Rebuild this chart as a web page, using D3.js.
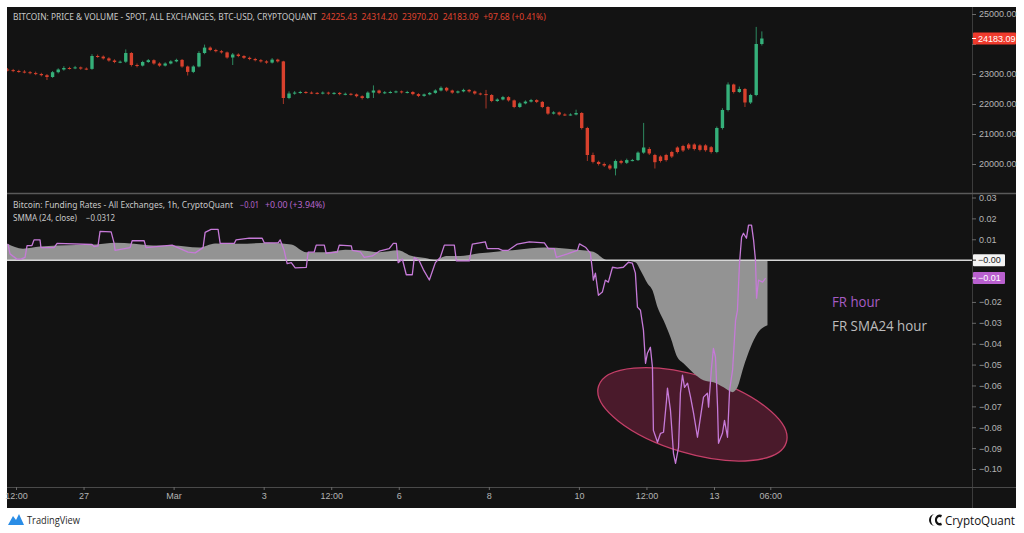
<!DOCTYPE html>
<html><head><meta charset="utf-8">
<script src="https://cdn.jsdelivr.net/npm/d3@7"></script>
<style>
html,body{margin:0;padding:0;background:#fff;}
svg{display:block;}
</style></head><body>
<svg id="c" width="1024" height="533"></svg>
<script>
// ---------- DATA ----------
// 3-hour candles, first one opens 2023-02-25 06:00 UTC
const candleStartUTC = [2023, 1, 25, 6];
const candleStepHours = 3;
const opens = [23150,23130,23100,23080,23060,23030,23000,22960,22900,23060,
23150,23200,23190,23220,23180,23170,23600,23580,23520,23450,
23400,23410,23700,23300,23280,23400,23460,23350,23280,23350,
23420,23470,23250,23070,23250,23700,23880,23800,23760,23720,
23550,23650,23600,23540,23500,23460,23420,23380,23480,23420,
22200,22350,22380,22400,22380,22370,22360,22380,22350,22370,
22330,22340,22320,22260,22200,22380,22450,22370,22390,22400,
22420,22390,22400,22330,22270,22320,22370,22450,22540,22450,
22380,22420,22470,22420,22350,22330,22300,22100,22150,22230,
22120,21900,22020,22080,22130,22070,21900,21680,21720,21650,
21640,21650,21700,21200,20300,20070,20000,19950,19850,20100,
20040,20130,20130,20380,20500,20300,20250,20300,20400,20550,
20600,20650,20650,20620,20620,20560,20400,21200,21800,22650,
22400,22500,22050,22300,24000];
const highs = [23200,23170,23140,23130,23100,23080,23040,23000,23100,23190,
23260,23240,23270,23250,23220,23660,23650,23620,23560,23490,
23450,23820,23730,23350,23440,23500,23490,23390,23390,23460,
23510,23500,23280,23290,23760,23980,23920,23840,23800,23750,
23700,23690,23630,23580,23540,23500,23460,23530,23510,23440,
22420,22430,22440,22430,22420,22400,22420,22410,22400,22400,
22380,22370,22350,22290,22420,22620,22480,22430,22440,22450,
22450,22440,22430,22360,22350,22400,22490,22590,22570,22480,
22450,22510,22500,22450,22380,22470,22330,22190,22270,22260,
22150,22060,22120,22170,22160,22100,21930,21760,21750,21690,
21690,21810,21730,21240,20380,20110,20050,20000,20150,20140,
20180,20170,20420,21370,20560,20340,20290,20340,20440,20590,
20640,20700,20690,20660,20660,20600,21250,21860,22720,22680,
22580,22530,22340,24570,24420];
const lows = [23090,23060,23040,23020,22990,22960,22920,22800,22870,23020,
23110,23150,23160,23140,23130,23140,23540,23480,23410,23360,
23360,23370,23250,23220,23250,23370,23310,23240,23250,23320,
23390,23210,22950,23030,23220,23660,23760,23720,23680,23510,
23300,23560,23500,23460,23420,23380,23340,23350,23380,22000,
22160,22310,22340,22340,22330,22320,22320,22310,22310,22290,
22290,22280,22220,22150,22170,22200,22330,22330,22350,22360,
22350,22350,22290,22230,22240,22290,22340,22420,22410,22340,
22350,22390,22380,22310,22290,21850,22060,22070,22120,22080,
21860,21870,21990,22050,22030,21860,21640,21650,21610,21600,
21610,21620,21150,20100,20020,19950,19900,19800,19620,19990,
20000,20090,20100,20340,20300,19850,20050,20080,20200,20350,
20400,20470,20450,20420,20410,20350,20360,21150,21750,22350,
22370,21900,22000,22260,23950];
const closes = [23130,23100,23080,23060,23030,23000,22960,22900,23060,23150,
23200,23190,23220,23180,23170,23600,23580,23520,23450,23400,
23410,23700,23300,23280,23400,23460,23350,23280,23350,23420,
23470,23250,23070,23250,23700,23880,23800,23760,23720,23550,
23650,23600,23540,23500,23460,23420,23380,23480,23420,22200,
22350,22380,22400,22380,22370,22360,22380,22350,22370,22330,
22340,22320,22260,22200,22380,22450,22370,22390,22400,22420,
22390,22400,22330,22270,22320,22370,22450,22540,22450,22380,
22420,22470,22420,22350,22330,22300,22100,22150,22230,22120,
21900,22020,22080,22130,22070,21900,21680,21720,21650,21640,
21650,21700,21200,20300,20070,20000,19950,19850,20100,20040,
20130,20130,20380,20550,20350,20060,20100,20130,20250,20400,
20450,20520,20500,20470,20460,20400,21200,21800,22650,22400,
22500,22050,22300,24000,24183.09];

// Funding rate (hourly), hours after 2023-02-25 12:00 UTC
const frBaseUTC = [2023, 1, 25, 12];
const frHours = [-4.3,-3.2,0.5,2.7,4.8,5.9,8.5,9.6,12.8,13.3,20.3,21.9,40.5,41.6,43.7,44.8,50.7,52.3,52.8,60.8,
61.9,68.3,69.3,83.2,91.7,95.5,99.7,100.8,104,107.7,108.8,116.3,117.3,124.3,131.2,132.3,139.7,140.8,142.9,144.5,
146.7,148.8,154.7,155.7,158.9,160,164.3,165.3,171.2,172.3,178.7,179.2,183.5,185.6,189.9,193.6,198.9,201.1,202.7,203.7,
205.9,208,211.2,212.3,214.9,217.1,220.3,223.5,226.1,228.3,233.6,234.7,241.6,243.2,250.1,251.2,257.1,259.2,262.4,267.2,
273.6,281.6,283.7,286.9,288,293.9,299.2,300.3,
303.5,306.1,307.2,307.7,308.8,310.4,312.5,314.1,315.7,317.9,320.5,323.7,326.4,328.5,330.1,331.2,332.8,334.4,335.5,336.5,
338.1,339.2,339.7,341.9,343.5,345.1,346.7,347.2,348.8,350.4,351.5,353.1,354.1,355.2,356.3,357.9,359.5,361.1,363.2,364.8,
366.4,368.5,369.1,370.7,371.7,372.8,373.9,374.4,376.5,377.6,379.2,380.3,381.9,383.5,384.5,385.6,386.7,387.7,389.3,390.4,
392,393.1,394.1,394.7,395.7,397.9,399.5];
const frValues = [0.0077,0.003,0.0005,0.0005,0.0013,0.007,0.007,0.0097,0.0097,0.006,0.006,0.008,0.0075,0.0065,0.0068,0.0138,0.0135,0.008,0.0047,0.006,
0.0093,0.0093,0.006,0.0072,0.0038,0.0035,0.006,0.0133,0.0147,0.0147,0.008,0.008,0.0097,0.0105,0.0105,0.0083,0.0083,0.0097,0.0047,-0.0017,
-0.0012,-0.0037,-0.0035,0.0038,0.0038,0.0072,0.0072,0.0033,0.0038,0.0072,0.0068,0.0047,0.004,0.0013,0.002,0.0043,0.0055,0.008,0.008,-0.0012,
0.0005,-0.007,-0.007,0.0013,-0.0003,-0.0045,-0.0095,-0.0012,0.0013,0.0072,0.0072,-0.0003,-0.0003,0.0077,0.0088,0.0055,0.0055,0.0047,0.0047,0.0077,
0.0088,0.0083,0.0055,0.0055,0.0013,0.003,0.0047,0.0078,
0.0062,0.0034,-0.0048,-0.0096,-0.0062,-0.0168,-0.0153,-0.0096,-0.0105,-0.0034,-0.0038,-0.0034,-0.001,-0.0014,-0.0062,-0.0225,-0.024,-0.0335,-0.0494,-0.0446,
-0.0417,-0.0513,-0.0815,-0.0872,-0.0829,-0.0824,-0.0671,-0.0613,-0.0719,-0.0925,-0.0973,-0.0896,-0.0637,-0.0551,-0.0609,-0.0589,-0.0656,-0.0733,-0.0848,-0.0752,
-0.0656,-0.0637,-0.0704,-0.0513,-0.0422,-0.0465,-0.0704,-0.0877,-0.0829,-0.0767,-0.0848,-0.0623,-0.0527,-0.0288,-0.024,-0.0014,0.011,0.0129,0.0105,0.0168,
0.0168,0.0096,0.0,-0.0182,-0.0096,-0.0105,-0.0086];

// SMMA(24) of funding rate
const smmaHours = [-4.8,3.7,12.8,21.9,42.7,52.8,62.9,73.1,83.2,97.6,106.1,118.4,134.4,146.7,154.7,165.3,175.5,183.5,193.6,203.7,
210.1,218.1,223.5,229.3,236.8,246.9,257.1,267.2,281.6,293.9,301.9,307.7,315.2,323.7,330.1,332.8,336.5,339.2,341.9,345.1,
348.8,352.5,355.7,361.1,366.4,371.7,377.1,381.9,384.5,387.7,391.5,395.2,400.5];
const smmaValues = [0.008,0.0055,0.0065,0.007,0.0075,0.0083,0.0078,0.007,0.007,0.006,0.008,0.0078,0.0083,0.0075,0.0038,0.0038,0.005,0.0047,0.0038,0.0047,
0.0022,0.001,0.0,0.002,0.002,0.0033,0.0042,0.005,0.006,0.0055,0.0047,0.004,0.0,0.0,-0.001,-0.0048,-0.011,-0.0144,-0.0225,-0.0288,
-0.0369,-0.0465,-0.0494,-0.0541,-0.0575,-0.0585,-0.0609,-0.0632,-0.0609,-0.0513,-0.0417,-0.035,-0.0312];

const xTickDates = ["2023-02-25T12:00:00Z","2023-02-27T00:00:00Z","2023-03-01T00:00:00Z","2023-03-03T00:00:00Z",
"2023-03-04T12:00:00Z","2023-03-06T00:00:00Z","2023-03-08T00:00:00Z","2023-03-10T00:00:00Z",
"2023-03-11T12:00:00Z","2023-03-13T00:00:00Z","2023-03-14T06:00:00Z"];
const xTickLabels = ["12:00","27","Mar","3","12:00","6","8","10","12:00","13","06:00"];
const priceTicks = [20000,21000,22000,23000,24000,25000];
const priceTickHidden = [24000]; // covered by the last-price label
const frTicks = [0.03,0.02,0.01,-0.02,-0.03,-0.04,-0.05,-0.06,-0.07,-0.08,-0.09,-0.10];

const priceHeader = "BITCOIN: PRICE & VOLUME - SPOT, ALL EXCHANGES, BTC-USD, CRYPTOQUANT";
const priceOHLC = ["24225.43","24314.20","23970.20","24183.09","+97.68 (+0.41%)"];
const frHeader = "Bitcoin: Funding Rates - All Exchanges, 1h, CryptoQuant";
const frHeaderVals = ["\u22120.01","+0.00 (+3.94%)"];
const smmaHeader = ["SMMA (24, close)", "\u22120.0312"];
const legendLabels = ["FR hour", "FR SMA24 hour"];
const lastPrice = 24183.09;
// annotation ellipse centre (hours after base, FR value)
const ellipseCenter = [360.5, -0.0738];

// ---------- LAYOUT ----------
const L = 7, R = 972, RR = 1016, T = 7, DIV = 193, XAX = 487, B = 508;
const BG = "#131313", TXT = "#b4b4b4";
const UP = "#35b07a", DOWN = "#d8412d", PURPLE = "#c67ad8";

const svg = d3.select("#c");
const defs = svg.append("defs");
defs.append("clipPath").attr("id","cp1").append("rect").attr("x",L).attr("y",T).attr("width",R-L).attr("height",DIV-T);
defs.append("clipPath").attr("id","cp2").append("rect").attr("x",L).attr("y",DIV+1).attr("width",R-L).attr("height",XAX-DIV-1);

svg.append("rect").attr("x",L).attr("y",T).attr("width",RR-L).attr("height",B-T).attr("fill",BG);

const base = d => new Date(Date.UTC(...d));
const hr = 3600e3;
const x = d3.scaleUtc()
  .domain([new Date("2023-02-25T12:00:00Z"), new Date("2023-03-13T00:00:00Z")])
  .range([16, 714]);
const yP = d3.scaleLinear().domain([20000,25000]).range([164,14]);
const yF = d3.scaleLinear().domain([-0.10,0.03]).range([469,197.5]);

// ---------- PRICE PANE ----------
const t0 = base(candleStartUTC).getTime();
const candles = closes.map((c,i)=>({
  t: new Date(t0 + (i*candleStepHours + candleStepHours/2)*hr),
  o: opens[i], h: highs[i], l: lows[i], c
}));
const gP = svg.append("g").attr("clip-path","url(#cp1)");
const bw = Math.abs(x(new Date(t0+candleStepHours*hr)) - x(new Date(t0))) * 0.6;
gP.selectAll("line.w").data(candles).join("line")
  .attr("x1",d=>x(d.t)).attr("x2",d=>x(d.t))
  .attr("y1",d=>yP(d.h)).attr("y2",d=>yP(d.l))
  .attr("stroke",d=>d.c>=d.o?UP:DOWN).attr("stroke-opacity",0.75).attr("stroke-width",1);
gP.selectAll("rect.b").data(candles).join("rect")
  .attr("x",d=>x(d.t)-bw/2).attr("width",bw)
  .attr("y",d=>yP(Math.max(d.o,d.c)))
  .attr("height",d=>Math.max(1,Math.abs(yP(d.o)-yP(d.c))))
  .attr("fill",d=>d.c>=d.o?UP:DOWN);

// ---------- FUNDING PANE ----------
const fb = base(frBaseUTC).getTime();
const fr = frHours.map((h,i)=>({t:new Date(fb+h*hr), v:frValues[i]}));
const sm = smmaHours.map((h,i)=>({t:new Date(fb+h*hr), v:smmaValues[i]}));
const gF = svg.append("g").attr("clip-path","url(#cp2)");
const ec = {t:new Date(fb+ellipseCenter[0]*hr), v:ellipseCenter[1]};
gF.append("ellipse")
  .attr("cx",0).attr("cy",0).attr("rx",98).attr("ry",39)
  .attr("transform",`translate(${x(ec.t)},${yF(ec.v)}) rotate(16.6)`)
  .attr("fill","#4a1a2b").attr("stroke","#c43f68").attr("stroke-width",1.3);
gF.append("path").datum(sm)
  .attr("d", d3.area().x(d=>x(d.t)).y0(yF(0)).y1(d=>yF(d.v)).curve(d3.curveMonotoneX))
  .attr("fill","#939393");
gF.append("line").attr("x1",L).attr("x2",R).attr("y1",yF(0)).attr("y2",yF(0))
  .attr("stroke","#d6d6d6").attr("stroke-width",1.5);
gF.append("path").datum(fr)
  .attr("d", d3.line().x(d=>x(d.t)).y(d=>yF(d.v)))
  .attr("fill","none").attr("stroke",PURPLE).attr("stroke-width",1.3).attr("stroke-linejoin","round");

// ---------- FRAME LINES ----------
svg.append("line").attr("x1",R+0.5).attr("x2",R+0.5).attr("y1",T).attr("y2",B).attr("stroke","#3c3c3c");
svg.append("line").attr("x1",L).attr("x2",RR).attr("y1",DIV+0.5).attr("y2",DIV+0.5).attr("stroke","#5a5a5a").attr("stroke-width",1.5);
svg.append("line").attr("x1",L).attr("x2",RR).attr("y1",XAX+0.5).attr("y2",XAX+0.5).attr("stroke","#4a4a4a");

// ---------- AXES ----------
const axFont = "'Liberation Sans', Arial, sans-serif";
function styleAxis(g){
  g.select(".domain").remove();
  g.selectAll(".tick line").attr("stroke","#6a6a6a");
  g.selectAll(".tick text").attr("fill",TXT).style("font-family",axFont).style("font-size","9px");
}
svg.append("g").attr("transform",`translate(${R},0)`)
  .call(d3.axisRight(yP).tickValues(priceTicks)
    .tickFormat(d=>priceTickHidden.includes(d)?"":d.toFixed(2)).tickSize(4).tickPadding(3))
  .call(styleAxis);
svg.append("g").attr("transform",`translate(${R},0)`)
  .call(d3.axisRight(yF).tickValues(frTicks).tickFormat(d=>d<0?"\u2212"+Math.abs(d).toFixed(2):d.toFixed(2)).tickSize(4).tickPadding(3))
  .call(styleAxis);
svg.append("g").attr("transform",`translate(0,${XAX})`)
  .call(d3.axisBottom(x).tickValues(xTickDates.map(s=>new Date(s))).tickFormat((d,i)=>xTickLabels[i]).tickSize(3).tickPadding(3))
  .call(styleAxis);

// value labels on right scale
function valueLabel(y, bg, fg, txt, w){
  svg.append("rect").attr("x",R+1).attr("y",y-6).attr("width",w).attr("height",12).attr("fill",bg).attr("rx",1);
  svg.append("line").attr("x1",R).attr("x2",R+4).attr("y1",y).attr("y2",y).attr("stroke",fg);
  svg.append("text").attr("x",R+6).attr("y",y+3.2).attr("fill",fg)
    .style("font-family",axFont).style("font-size","9px").text(txt);
}
valueLabel(yP(lastPrice), "#ef3b2d", "#ffffff", lastPrice.toFixed(2), 43);
valueLabel(yF(0), "#f4f4f4", "#1a1a1a", "\u22120.00", 32);
const lastFR = frValues[frValues.length-1];
valueLabel(yF(lastFR), "#b960cf", "#ffffff", "\u2212"+Math.abs(lastFR).toFixed(2), 32);

// ---------- HEADERS ----------
const hFont = "'Noto Sans', 'Open Sans', sans-serif";
function htext(txt, x0, y, len, col){
  svg.append("text").attr("x",x0).attr("y",y).attr("fill",col)
    .style("font-family",hFont).style("font-size","8.5px")
    .attr("textLength",len).attr("lengthAdjust","spacingAndGlyphs").text(txt);
}
const HC = "#c8c8c8", RED = "#e0432f", PUR = "#b565cc";
htext(priceHeader, 13, 19.5, 304, HC);
const ohlcX = [321, 361.5, 402, 442.7, 483.2], ohlcLen = [36, 36, 36, 36, 62.5];
priceOHLC.forEach((s,i)=>htext(s, ohlcX[i], 19.5, ohlcLen[i], RED));
htext(frHeader, 13, 208, 220, HC);
htext(frHeaderVals[0], 240, 208, 19, PUR);
htext(frHeaderVals[1], 265, 208, 60, PUR);
htext(smmaHeader[0], 13, 221, 64, HC);
htext(smmaHeader[1], 86, 221, 29, HC);

// ---------- LEGEND ----------
svg.append("text").attr("x",832).attr("y",307).attr("fill","#a65cc4")
  .style("font-family","'Open Sans', sans-serif").style("font-size","14px")
  .attr("textLength",48).attr("lengthAdjust","spacingAndGlyphs").text(legendLabels[0]);
svg.append("text").attr("x",832).attr("y",331).attr("fill","#bdbdbd")
  .style("font-family","'Open Sans', sans-serif").style("font-size","14px")
  .attr("textLength",95).attr("lengthAdjust","spacingAndGlyphs").text(legendLabels[1]);

// ---------- FOOTER LOGOS ----------
svg.append("path").attr("d","M8,525 L13,516 L16,520 L19,514 L24,525 Z").attr("fill","#2a8de6");
svg.append("text").attr("x",27).attr("y",524).attr("fill","#2a2a2a")
  .style("font-family","'Open Sans', sans-serif").style("font-size","10px")
  .attr("textLength",53).attr("lengthAdjust","spacingAndGlyphs").text("TradingView");
svg.append("path").attr("d","M935,514 A6,6 0 0 0 935,526 A4,6 0 0 1 935,514 Z").attr("fill","#111");
svg.append("path").attr("d","M942,515 A5,5.5 0 1 0 942,525 L941,522.5 A2.6,3 0 1 1 941,517.5 Z").attr("fill","#111");
svg.append("text").attr("x",945).attr("y",524.5).attr("fill","#111")
  .style("font-family","'Open Sans', sans-serif").style("font-size","12px")
  .attr("textLength",70).attr("lengthAdjust","spacingAndGlyphs").text("CryptoQuant");
</script></body></html>
